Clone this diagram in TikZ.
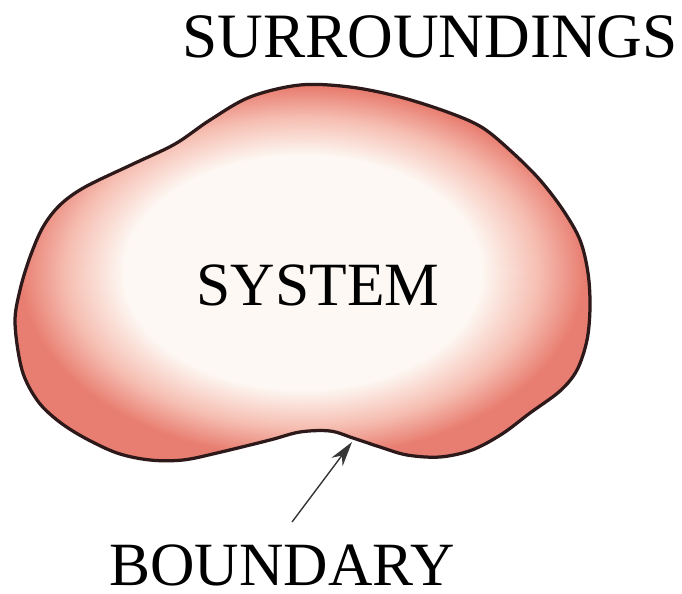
\documentclass[tikz,border=0pt]{standalone}
\usepackage{fontspec}
\setmainfont{Liberation Serif}
\usetikzlibrary{arrows.meta,positioning}
\definecolor{blobcream}{RGB}{253,248,243}
\definecolor{blobpink}{RGB}{246,190,178}
\definecolor{blobred}{RGB}{232,126,113}
\definecolor{outline}{RGB}{45,25,25}
\definecolor{arrowgray}{RGB}{55,55,55}
\pgfdeclareradialshading{blobshade}{\pgfpoint{0bp}{0bp}}{%
  color(0bp)=(blobcream); color(15.5bp)=(blobcream);
  color(20.5bp)=(blobpink); color(24.5bp)=(blobred); color(50bp)=(blobred)}
\tikzset{
  lbl/.style={font=\fontsize{35}{40}\selectfont,inner sep=0pt,anchor=base},
  arr/.style={-{Stealth[length=5mm,width=2.8mm]},line width=0.8pt,draw=arrowgray,fill=arrowgray},
}

\begin{document}
\begin{tikzpicture}[x=0.02cm,y=-0.02cm]
  \useasboundingbox (0,0) rectangle (682,594);
  % the system
  \path[shading=blobshade,draw=outline,line width=0.065cm]
    plot[smooth cycle,tension=0.55] coordinates {
      (300,85) (350,87) (400,97) (450,113) (483,128) (513,153)
      (540,180) (563,210) (580,240) (588,273) (590,307) (587,340)
      (577,370) (560,391) (530,413) (502,434) (472,450) (440,457)
      (407,455) (380,447) (353,438) (330,431) (300,432) (270,440)
      (217,453) (183,460) (150,460) (117,453) (83,437) (57,420)
      (37,400) (22,370) (15,323) (20,290) (30,257) (43,227)
      (60,205) (85,187) (133,164) (175,144) (210,120) (250,97)};
  \node[lbl,font=\fontsize{36}{40}\selectfont] (surr) at (430,58) {SURROUNDINGS};
  \node[lbl] (sys) at (318,305) {SYSTEM};
  \node[lbl] (bound) at (282,585) {BOUNDARY};
  \coordinate (tail) at (292,522);
  \coordinate (tip) at (352,442);
  \draw[arr] (tail) -- (tip);
\end{tikzpicture}
\end{document}
